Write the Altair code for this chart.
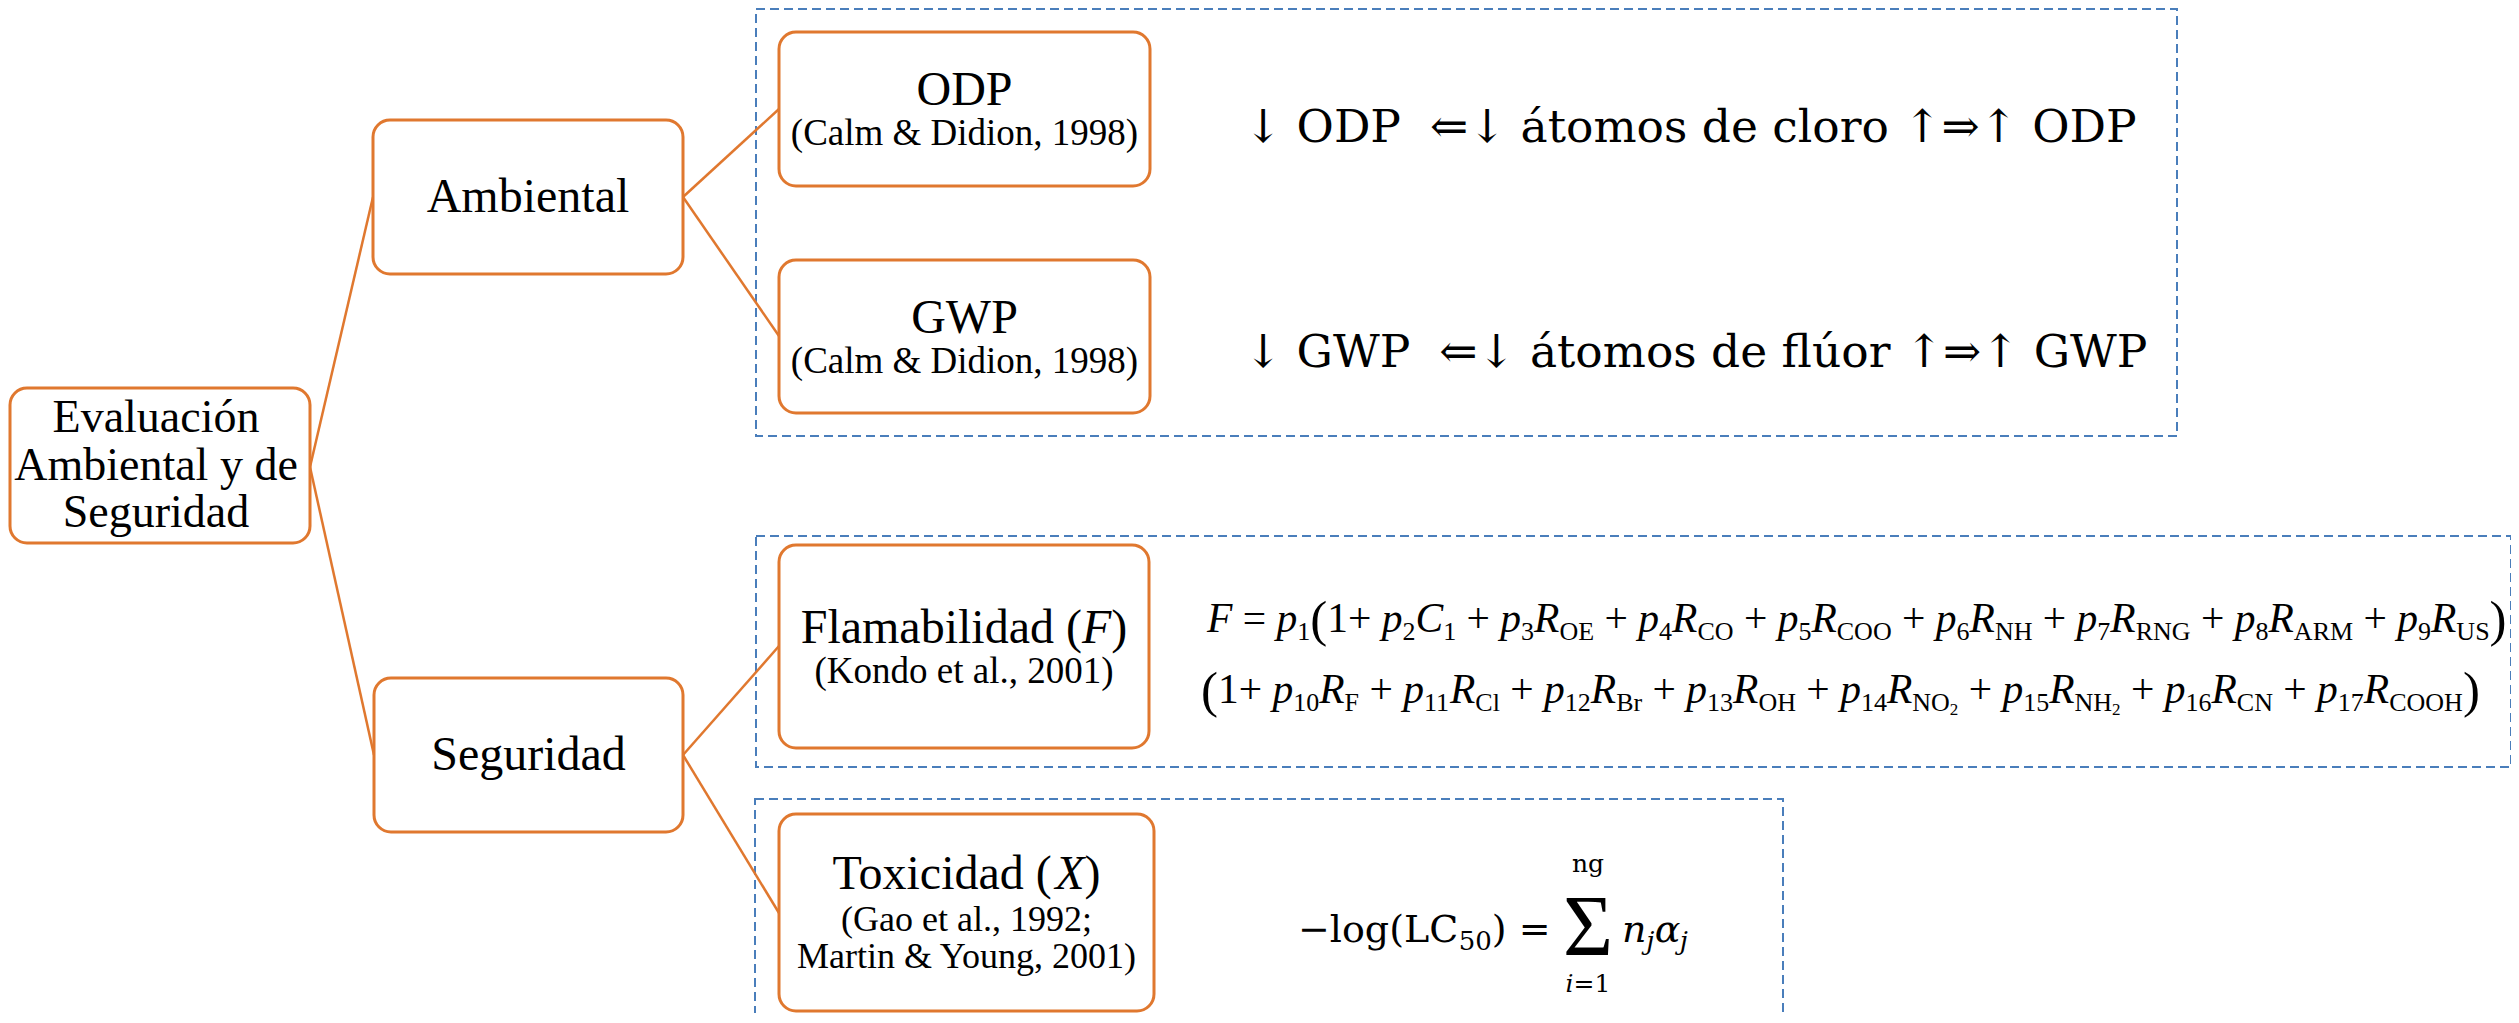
import altair as alt
import pandas as pd

# ---------------- content (text of the diagram) ----------------
ROOT_LINES = ["Evaluación", "Ambiental y de", "Seguridad"]
BRANCHES = ["Ambiental", "Seguridad"]
ENV_LEAVES = ["ODP", "GWP"]
ENV_CITES = ["(Calm & Didion, 1998)", "(Calm & Didion, 1998)"]
ENV_RULES = ["↓ ODP \u00a0⇐↓ átomos de cloro ↑⇒↑ ODP",
             "↓ GWP \u00a0⇐↓ átomos de flúor ↑⇒↑ GWP"]
FLAM_TITLE = ["Flamabilidad (", "F", ")"]
FLAM_CITE = ["(Kondo et al., 2001)"]
TOX_TITLE = ["Toxicidad (", "X", ")"]
TOX_CITE = ["(Gao et al., 1992;", "Martin & Young, 2001)"]
FLAM_IDX_1 = [3, 4, 5, 6, 7, 8, 9]
FLAM_GROUPS_1 = ["OE", "CO", "COO", "NH", "RNG", "ARM", "US"]
FLAM_IDX_2 = [10, 11, 12, 13, 14, 15, 16, 17]
FLAM_GROUPS_2 = ["F", "Cl", "Br", "OH", "NO2", "NH2", "CN", "COOH"]

# ---------------- layout (reference pixel coordinates) ----------------
ORANGE = "#E0782F"
BLUE = "#4A7EBB"
# rounded boxes: x0, x1, y0, y1
BOXES = {
    "root": (10, 310, 388, 543),
    "amb": (373, 683, 120, 274),
    "seg": (374, 683, 678, 832),
    "odp": (779, 1150, 32, 186),
    "gwp": (779, 1150, 260, 413),
    "flam": (779, 1149, 545, 748),
    "tox": (779, 1154, 814, 1011),
}
DASHED = [(756, 2177, 9, 436), (756, 2511, 536, 767), (755, 1783, 799, 1020)]
LINKS = [(310, 467, 373, 197), (310, 467, 374, 755),
         (683, 197, 779, 109), (683, 197, 779, 336),
         (683, 755, 779, 646), (683, 755, 779, 913)]

# Times-compatible widths (per 1000 em) for Liberation Serif
TR = {' ': 250, '(': 333, ')': 333, '+': 564, ',': 250, '.': 250, ';': 278,
      '=': 564, '&': 778}
for d in "0123456789":
    TR[d] = 500
TR.update(dict(A=722, B=667, C=667, D=722, E=611, F=556, G=722, H=722, I=333,
               J=389, K=722, L=611, M=889, N=722, O=722, P=556, Q=722, R=667,
               S=556, T=611, U=722, V=722, W=944, X=722, Y=722, Z=611))
TR.update(dict(a=444, b=500, c=444, d=500, e=444, f=333, g=500, h=500, i=278,
               j=278, k=500, l=278, m=778, n=500, o=500, p=500, q=500, r=333,
               s=389, t=278, u=500, v=500, w=722, x=500, y=500, z=444))
TI = dict(TR)
TI.update(dict(F=611, X=611, p=500, R=611, C=667))
# DejaVu Serif widths
DR = {' ': 318, '−': 838, 'l': 320, 'o': 602, 'g': 640, '(': 390, ')': 390,
      'L': 706, 'C': 734, '=': 838, 'n': 644, 'i': 320}
for d in "0123456789":
    DR[d] = 636
DI = dict(DR)
DI.update({'n': 640, 'j': 320, 'α': 660, 'i': 320})


def width(text, table, size):
    return sum(table.get(ch, 500) for ch in text) / 1000.0 * size


def layout(pieces, x0, y0, font, kinds):
    rows = []
    x = x0
    for text, kind in pieces:
        table, size, dy, style = kinds[kind]
        lead = len(text) - len(text.lstrip(' '))
        if text.strip():
            rows.append(dict(text=text.strip(),
                             x=x + lead * table[' '] / 1000.0 * size,
                             y=y0 + dy, size=size, font=font, style=style,
                             align="left"))
        x += width(text, table, size)
    return rows, x


rows = []


def center_text(text, cx, y, size, font="Liberation Serif", style="normal"):
    rows.append(dict(text=text, x=cx, y=y, size=size, font=font, style=style,
                     align="center"))


def cx(b):
    return (BOXES[b][0] + BOXES[b][1]) / 2.0


# root
for t, yb in zip(ROOT_LINES, [432, 480, 527]):
    center_text(t, 156, yb, 46)
# branches
center_text(BRANCHES[0], cx("amb"), 212, 48)
center_text(BRANCHES[1], cx("seg"), 770, 48)
# environment leaves
for leaf, cite, b, yb in zip(ENV_LEAVES, ENV_CITES, ["odp", "gwp"], [105, 333]):
    center_text(leaf, cx(b), yb, 48)
    center_text(cite, cx(b), yb + 40, 37)
# arrow rules
for t, yb in zip(ENV_RULES, [142, 367]):
    rows.append(dict(text=t, x=1244, y=yb, size=45.5, font="DejaVu Serif",
                     style="normal", align="left"))

# titles with italic letter
TK = {"rm": (TR, 48, 0, "normal"), "it": (TI, 48, 0, "italic")}
for title, b, yb in [(FLAM_TITLE, "flam", 643), (TOX_TITLE, "tox", 889)]:
    pieces = [(title[0], "rm"), (title[1], "it"), (title[2], "rm")]
    total = sum(width(p, TK[k][0], 48) for p, k in pieces)
    r, _ = layout(pieces, cx(b) - total / 2.0, yb, "Liberation Serif", TK)
    rows.extend(r)
center_text(FLAM_CITE[0], cx("flam"), 683, 37)
center_text(TOX_CITE[0], cx("tox"), 931, 36)
center_text(TOX_CITE[1], cx("tox"), 968, 36)

# flammability formula
FK = {"it": (TI, 41.5, 0, "italic"), "rm": (TR, 41.5, 0, "normal"),
      "sub": (TR, 26, 8, "normal"), "ss": (TR, 17, 12, "normal"),
      "big": (TR, 51, 4, "normal")}


def grp(g):
    if g.endswith("2") and len(g) > 1:
        return [(g[:-1], "sub"), ("2", "ss")]
    return [(g, "sub")]


p1 = [("F", "it"), (" = ", "rm"), ("p", "it"), ("1", "sub"), ("(", "big"),
      ("1+ ", "rm"), ("p", "it"), ("2", "sub"), ("C", "it"), ("1", "sub")]
for n, g in zip(FLAM_IDX_1, FLAM_GROUPS_1):
    p1 += [(" + ", "rm"), ("p", "it"), (str(n), "sub"), ("R", "it")] + grp(g)
p1 += [(")", "big")]
r, _ = layout(p1, 1207, 632, "Liberation Serif", FK)
rows.extend(r)
p2 = [("(", "big"), ("1+ ", "rm")]
for i, (n, g) in enumerate(zip(FLAM_IDX_2, FLAM_GROUPS_2)):
    if i:
        p2 += [(" + ", "rm")]
    p2 += [("p", "it"), (str(n), "sub"), ("R", "it")] + grp(g)
p2 += [(")", "big")]
r, _ = layout(p2, 1201, 703, "Liberation Serif", FK)
rows.extend(r)

# toxicity formula
DK = {"rm": (DR, 38, 0, "normal"), "sub": (DR, 26, 8, "normal"),
      "it": (DI, 38, 0, "italic"), "sit": (DI, 26, 8, "italic"),
      "lim": (DR, 25, 0, "normal"), "limit": (DI, 25, 0, "italic")}
r, _ = layout([("−log(LC", "rm"), ("50", "sub"), (") =", "rm")], 1298, 942,
              "DejaVu Serif", DK)
rows.extend(r)
rows.append(dict(text="Σ", x=1588, y=955, size=86, font="Liberation Serif",
                 style="normal", align="center"))
r, _ = layout([("n", "it"), ("j", "sit"), ("α", "it"), ("j", "sit")], 1622, 942,
              "DejaVu Serif", DK)
rows.extend(r)
center_text("ng", 1588, 872, 25, font="DejaVu Serif")
lw = width("i", DI, 25) + width("=1", DR, 25)
r, _ = layout([("i", "limit"), ("=1", "lim")], 1588 - lw / 2.0, 992,
              "DejaVu Serif", DK)
rows.extend(r)

text_df = pd.DataFrame(rows)

# ---------------- chart ----------------
H = 1005
XS = alt.Scale(domain=[8, 2511], range=[0, 2503])
YS = alt.Scale(domain=[8, 8 + H], range=[0, H])

dashed_df = pd.DataFrame(DASHED, columns=["x0", "x1", "y0", "y1"])
box_df = pd.DataFrame(list(BOXES.values()), columns=["x0", "x1", "y0", "y1"])
link_df = pd.DataFrame(LINKS, columns=["xa", "ya", "xb", "yb"])

dashed = alt.Chart(dashed_df).mark_rect(
    fillOpacity=0, stroke=BLUE, strokeWidth=2, strokeDash=[9, 5]
).encode(x=alt.X("x0:Q", scale=XS, axis=None), x2="x1:Q",
         y=alt.Y("y0:Q", scale=YS, axis=None), y2="y1:Q")

links = alt.Chart(link_df).mark_rule(color=ORANGE, strokeWidth=2.5).encode(
    x=alt.X("xa:Q", scale=XS, axis=None), x2="xb:Q",
    y=alt.Y("ya:Q", scale=YS, axis=None), y2="yb:Q")

boxes = alt.Chart(box_df).mark_rect(
    cornerRadius=17, fill="white", stroke=ORANGE, strokeWidth=3
).encode(x=alt.X("x0:Q", scale=XS, axis=None), x2="x1:Q",
         y=alt.Y("y0:Q", scale=YS, axis=None), y2="y1:Q")

layers = [dashed, links, boxes]
for (font, style, align), g in text_df.groupby(["font", "style", "align"]):
    layers.append(
        alt.Chart(g.reset_index(drop=True)).mark_text(
            font=font, fontStyle=style, align=align, baseline="alphabetic",
            color="black"
        ).encode(
            x=alt.X("x:Q", scale=XS, axis=None),
            y=alt.Y("y:Q", scale=YS, axis=None),
            text="text:N",
            size=alt.Size("size:Q", scale=None, legend=None),
        )
    )

chart = alt.layer(*layers).properties(
    width=2503, height=H, padding=0,
    autosize=alt.AutoSizeParams(type="none"),
    background="white",
).configure_view(stroke=None)

chart.save("out.html", embed_options={"renderer": "svg", "actions": False})
